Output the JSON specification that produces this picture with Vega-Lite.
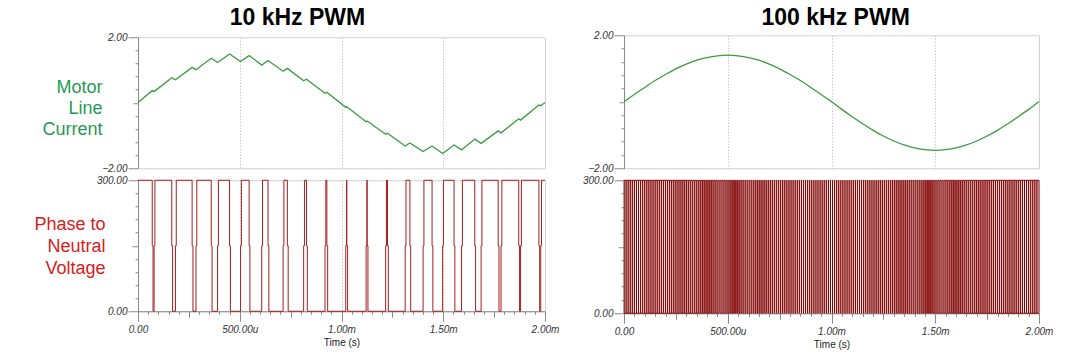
{
"$schema": "https://vega.github.io/schema/vega-lite/v6.json",
"background": "white",
"padding": {"left": 33, "top": 6, "right": 2, "bottom": 2},
"config": {
  "font": "Liberation Sans",
  "view": {"stroke": "#d0d0d0", "strokeWidth": 1},
  "axis": {"labelFont": "Liberation Sans", "labelFontSize": 10, "labelFontStyle": "italic", "labelColor": "#333333", "domainColor": "#8a8a8a", "tickColor": "#8a8a8a", "labelOverlap": false, "labelFlush": false, "labelBound": false, "titleFont": "Liberation Sans", "titleFontWeight": "normal"}
},
"datasets": {
  "i10": [{"t":0,"i":0.01},{"t":70,"i":0.37},{"t":79,"i":0.34},{"t":166,"i":0.76},{"t":184,"i":0.70},{"t":266,"i":1.08},{"t":285,"i":1.01},{"t":360,"i":1.36},{"t":391,"i":1.23},{"t":450,"i":1.49},{"t":504,"i":1.26},{"t":546,"i":1.44},{"t":608,"i":1.15},{"t":639,"i":1.29},{"t":713,"i":0.96},{"t":734,"i":1.05},{"t":814,"i":0.67},{"t":828,"i":0.72},{"t":919,"i":0.29},{"t":928,"i":0.32},{"t":1021,"i":-0.14},{"t":1026,"i":-0.12},{"t":1121,"i":-0.58},{"t":1126,"i":-0.56},{"t":1217,"i":-0.96},{"t":1226,"i":-0.93},{"t":1313,"i":-1.32},{"t":1336,"i":-1.23},{"t":1401,"i":-1.49},{"t":1445,"i":-1.32},{"t":1497,"i":-1.55},{"t":1553,"i":-1.29},{"t":1590,"i":-1.44},{"t":1655,"i":-1.11},{"t":1686,"i":-1.24},{"t":1770,"i":-0.86},{"t":1784,"i":-0.92},{"t":1871,"i":-0.49},{"t":1880,"i":-0.53},{"t":1970,"i":-0.07},{"t":1979,"i":-0.09},{"t":2000,"i":0.01}],
  "v10": [{"t":0,"v":300},
    {"t":70,"v":300},{"t":70,"v":150},{"t":74,"v":150},{"t":74,"v":0},
    {"t":79,"v":0},{"t":79,"v":150},{"t":83,"v":150},{"t":83,"v":300},
    {"t":166,"v":300},{"t":166,"v":150},{"t":170,"v":150},{"t":170,"v":0},
    {"t":184,"v":0},{"t":184,"v":150},{"t":188,"v":150},{"t":188,"v":300},
    {"t":266,"v":300},{"t":266,"v":150},{"t":270,"v":150},{"t":270,"v":0},
    {"t":285,"v":0},{"t":285,"v":150},{"t":289,"v":150},{"t":289,"v":300},
    {"t":360,"v":300},{"t":360,"v":150},{"t":364,"v":150},{"t":364,"v":0},
    {"t":391,"v":0},{"t":391,"v":150},{"t":395,"v":150},{"t":395,"v":300},
    {"t":450,"v":300},{"t":450,"v":150},{"t":454,"v":150},{"t":454,"v":0},
    {"t":504,"v":0},{"t":504,"v":150},{"t":508,"v":150},{"t":508,"v":300},
    {"t":546,"v":300},{"t":546,"v":150},{"t":550,"v":150},{"t":550,"v":0},
    {"t":608,"v":0},{"t":608,"v":150},{"t":612,"v":150},{"t":612,"v":300},
    {"t":639,"v":300},{"t":639,"v":150},{"t":643,"v":150},{"t":643,"v":0},
    {"t":713,"v":0},{"t":713,"v":150},{"t":717,"v":150},{"t":717,"v":300},
    {"t":734,"v":300},{"t":734,"v":150},{"t":738,"v":150},{"t":738,"v":0},
    {"t":814,"v":0},{"t":814,"v":150},{"t":818,"v":150},{"t":818,"v":300},
    {"t":828,"v":300},{"t":828,"v":150},{"t":832,"v":150},{"t":832,"v":0},
    {"t":919,"v":0},{"t":919,"v":150},{"t":923,"v":150},{"t":923,"v":300},
    {"t":928,"v":300},{"t":928,"v":150},{"t":932,"v":150},{"t":932,"v":0},
    {"t":1021,"v":0},{"t":1021,"v":150},{"t":1025,"v":150},{"t":1025,"v":300},
    {"t":1026,"v":300},{"t":1026,"v":150},{"t":1030,"v":150},{"t":1030,"v":0},
    {"t":1121,"v":0},{"t":1121,"v":150},{"t":1125,"v":150},{"t":1125,"v":300},
    {"t":1126,"v":300},{"t":1126,"v":150},{"t":1130,"v":150},{"t":1130,"v":0},
    {"t":1217,"v":0},{"t":1217,"v":150},{"t":1221,"v":150},{"t":1221,"v":300},
    {"t":1226,"v":300},{"t":1226,"v":150},{"t":1230,"v":150},{"t":1230,"v":0},
    {"t":1313,"v":0},{"t":1313,"v":150},{"t":1317,"v":150},{"t":1317,"v":300},
    {"t":1336,"v":300},{"t":1336,"v":150},{"t":1340,"v":150},{"t":1340,"v":0},
    {"t":1401,"v":0},{"t":1401,"v":150},{"t":1405,"v":150},{"t":1405,"v":300},
    {"t":1445,"v":300},{"t":1445,"v":150},{"t":1449,"v":150},{"t":1449,"v":0},
    {"t":1497,"v":0},{"t":1497,"v":150},{"t":1501,"v":150},{"t":1501,"v":300},
    {"t":1553,"v":300},{"t":1553,"v":150},{"t":1557,"v":150},{"t":1557,"v":0},
    {"t":1590,"v":0},{"t":1590,"v":150},{"t":1594,"v":150},{"t":1594,"v":300},
    {"t":1655,"v":300},{"t":1655,"v":150},{"t":1659,"v":150},{"t":1659,"v":0},
    {"t":1686,"v":0},{"t":1686,"v":150},{"t":1690,"v":150},{"t":1690,"v":300},
    {"t":1770,"v":300},{"t":1770,"v":150},{"t":1774,"v":150},{"t":1774,"v":0},
    {"t":1784,"v":0},{"t":1784,"v":150},{"t":1788,"v":150},{"t":1788,"v":300},
    {"t":1871,"v":300},{"t":1871,"v":150},{"t":1875,"v":150},{"t":1875,"v":0},
    {"t":1880,"v":0},{"t":1880,"v":150},{"t":1884,"v":150},{"t":1884,"v":300},
    {"t":1970,"v":300},{"t":1970,"v":150},{"t":1974,"v":150},{"t":1974,"v":0},
    {"t":1979,"v":0},{"t":1979,"v":150},{"t":1983,"v":150},{"t":1983,"v":300},
    {"t":2000,"v":300}],
  "i100": [{"t":0,"i":0},{"t":50,"i":0.22},{"t":100,"i":0.43},{"t":150,"i":0.64},{"t":200,"i":0.82},{"t":250,"i":0.99},{"t":300,"i":1.13},{"t":350,"i":1.25},{"t":400,"i":1.33},{"t":450,"i":1.38},{"t":500,"i":1.40},{"t":550,"i":1.38},{"t":600,"i":1.33},{"t":650,"i":1.25},{"t":700,"i":1.13},{"t":750,"i":0.99},{"t":800,"i":0.82},{"t":850,"i":0.64},{"t":900,"i":0.43},{"t":950,"i":0.22},{"t":1000,"i":0},{"t":1050,"i":-0.23},{"t":1100,"i":-0.45},{"t":1150,"i":-0.66},{"t":1200,"i":-0.86},{"t":1250,"i":-1.03},{"t":1300,"i":-1.18},{"t":1350,"i":-1.30},{"t":1400,"i":-1.39},{"t":1450,"i":-1.44},{"t":1500,"i":-1.46},{"t":1550,"i":-1.44},{"t":1600,"i":-1.39},{"t":1650,"i":-1.30},{"t":1700,"i":-1.18},{"t":1750,"i":-1.03},{"t":1800,"i":-0.86},{"t":1850,"i":-0.66},{"t":1900,"i":-0.45},{"t":1950,"i":-0.23},{"t":2000,"i":0.01}],
  "v100": [{"a":0.25,"b":9.75},{"a":10.25,"b":19.75},{"a":20.26,"b":29.74},{"a":30.26,"b":39.74},{"a":40.27,"b":49.73},{"a":50.28,"b":59.72},{"a":60.3,"b":69.7},{"a":70.31,"b":79.69},{"a":80.33,"b":89.67},{"a":90.35,"b":99.65},
{"a":100.37,"b":109.63},{"a":110.4,"b":119.6},{"a":120.42,"b":129.58},{"a":130.45,"b":139.55},{"a":140.48,"b":149.52},{"a":150.51,"b":159.49},{"a":160.55,"b":169.45},{"a":170.58,"b":179.42},{"a":180.62,"b":189.38},{"a":190.66,"b":199.34},
{"a":200.7,"b":209.3},{"a":210.74,"b":219.26},{"a":220.79,"b":229.21},{"a":230.84,"b":239.16},{"a":240.88,"b":249.12},{"a":250.93,"b":259.07},{"a":260.99,"b":269.01},{"a":271.04,"b":278.96},{"a":281.09,"b":288.91},{"a":291.15,"b":298.85},
{"a":301.21,"b":308.79},{"a":311.27,"b":318.73},{"a":321.32,"b":328.68},{"a":331.39,"b":338.61},{"a":341.45,"b":348.55},{"a":351.51,"b":358.49},{"a":361.57,"b":368.43},{"a":371.64,"b":378.36},{"a":381.71,"b":388.29},{"a":391.77,"b":398.23},
{"a":401.84,"b":408.16},{"a":411.91,"b":418.09},{"a":421.98,"b":428.02},{"a":432.04,"b":437.96},{"a":442.11,"b":447.89},{"a":452.18,"b":457.82},{"a":462.25,"b":467.75},{"a":472.32,"b":477.68},{"a":482.39,"b":487.61},{"a":492.47,"b":497.53},
{"a":502.54,"b":507.46},{"a":512.61,"b":517.39},{"a":522.68,"b":527.32},{"a":532.75,"b":537.25},{"a":542.82,"b":547.18},{"a":552.89,"b":557.11},{"a":562.96,"b":567.04},{"a":573.03,"b":576.97},{"a":583.09,"b":586.91},{"a":593.16,"b":596.84},
{"a":603.23,"b":606.77},{"a":613.3,"b":616.7},{"a":623.36,"b":626.64},{"a":633.43,"b":636.57},{"a":643.49,"b":646.51},{"a":653.55,"b":656.45},{"a":663.62,"b":666.38},{"a":673.68,"b":676.32},{"a":683.74,"b":686.26},{"a":693.79,"b":696.21},
{"a":703.85,"b":706.15},{"a":713.91,"b":716.09},{"a":723.96,"b":726.04},{"a":734.01,"b":735.99},{"a":744.07,"b":745.93},{"a":754.12,"b":755.88},{"a":764.16,"b":765.84},{"a":774.21,"b":775.79},{"a":784.26,"b":785.74},{"a":794.3,"b":795.7},
{"a":804.34,"b":805.66},{"a":814.38,"b":815.62},{"a":824.42,"b":825.58},{"a":834.45,"b":835.55},{"a":844.49,"b":845.51},{"a":854.52,"b":855.48},{"a":864.55,"b":865.45},{"a":874.58,"b":875.42},{"a":884.6,"b":885.4},{"a":894.63,"b":895.37},
{"a":904.65,"b":905.35},{"a":914.67,"b":915.33},{"a":924.69,"b":925.31},{"a":934.7,"b":935.3},{"a":944.72,"b":945.28},{"a":954.73,"b":955.27},{"a":964.74,"b":965.26},{"a":974.74,"b":975.26},{"a":984.75,"b":985.25},{"a":994.75,"b":995.25},
{"a":1004.75,"b":1005.25},{"a":1014.75,"b":1015.25},{"a":1024.74,"b":1025.26},{"a":1034.74,"b":1035.26},{"a":1044.73,"b":1045.27},{"a":1054.72,"b":1055.28},{"a":1064.7,"b":1065.3},{"a":1074.69,"b":1075.31},{"a":1084.67,"b":1085.33},{"a":1094.65,"b":1095.35},
{"a":1104.63,"b":1105.37},{"a":1114.6,"b":1115.4},{"a":1124.58,"b":1125.42},{"a":1134.55,"b":1135.45},{"a":1144.52,"b":1145.48},{"a":1154.49,"b":1155.51},{"a":1164.45,"b":1165.55},{"a":1174.42,"b":1175.58},{"a":1184.38,"b":1185.62},{"a":1194.34,"b":1195.66},
{"a":1204.3,"b":1205.7},{"a":1214.26,"b":1215.74},{"a":1224.21,"b":1225.79},{"a":1234.16,"b":1235.84},{"a":1244.12,"b":1245.88},{"a":1254.07,"b":1255.93},{"a":1264.01,"b":1265.99},{"a":1273.96,"b":1276.04},{"a":1283.91,"b":1286.09},{"a":1293.85,"b":1296.15},
{"a":1303.79,"b":1306.21},{"a":1313.74,"b":1316.26},{"a":1323.68,"b":1326.32},{"a":1333.62,"b":1336.38},{"a":1343.55,"b":1346.45},{"a":1353.49,"b":1356.51},{"a":1363.43,"b":1366.57},{"a":1373.36,"b":1376.64},{"a":1383.3,"b":1386.7},{"a":1393.23,"b":1396.77},
{"a":1403.16,"b":1406.84},{"a":1413.09,"b":1416.91},{"a":1423.03,"b":1426.97},{"a":1432.96,"b":1437.04},{"a":1442.89,"b":1447.11},{"a":1452.82,"b":1457.18},{"a":1462.75,"b":1467.25},{"a":1472.68,"b":1477.32},{"a":1482.61,"b":1487.39},{"a":1492.54,"b":1497.46},
{"a":1502.47,"b":1507.53},{"a":1512.39,"b":1517.61},{"a":1522.32,"b":1527.68},{"a":1532.25,"b":1537.75},{"a":1542.18,"b":1547.82},{"a":1552.11,"b":1557.89},{"a":1562.04,"b":1567.96},{"a":1571.98,"b":1578.02},{"a":1581.91,"b":1588.09},{"a":1591.84,"b":1598.16},
{"a":1601.77,"b":1608.23},{"a":1611.71,"b":1618.29},{"a":1621.64,"b":1628.36},{"a":1631.57,"b":1638.43},{"a":1641.51,"b":1648.49},{"a":1651.45,"b":1658.55},{"a":1661.39,"b":1668.61},{"a":1671.32,"b":1678.68},{"a":1681.27,"b":1688.73},{"a":1691.21,"b":1698.79},
{"a":1701.15,"b":1708.85},{"a":1711.09,"b":1718.91},{"a":1721.04,"b":1728.96},{"a":1730.99,"b":1739.01},{"a":1740.93,"b":1749.07},{"a":1750.88,"b":1759.12},{"a":1760.84,"b":1769.16},{"a":1770.79,"b":1779.21},{"a":1780.74,"b":1789.26},{"a":1790.7,"b":1799.3},
{"a":1800.66,"b":1809.34},{"a":1810.62,"b":1819.38},{"a":1820.58,"b":1829.42},{"a":1830.55,"b":1839.45},{"a":1840.51,"b":1849.49},{"a":1850.48,"b":1859.52},{"a":1860.45,"b":1869.55},{"a":1870.42,"b":1879.58},{"a":1880.4,"b":1889.6},{"a":1890.37,"b":1899.63},
{"a":1900.35,"b":1909.65},{"a":1910.33,"b":1919.67},{"a":1920.31,"b":1929.69},{"a":1930.3,"b":1939.7},{"a":1940.28,"b":1949.72},{"a":1950.27,"b":1959.73},{"a":1960.26,"b":1969.74},{"a":1970.26,"b":1979.74},{"a":1980.25,"b":1989.75},{"a":1990.25,"b":1999.75}]
},
"spacing": 21,
"bounds": "full",
"center": true,
"hconcat": [
  {
    "title": {"text": "10 kHz PWM", "fontSize": 23, "fontWeight": "bold", "color": "#000000", "font": "Liberation Sans", "anchor": "middle", "offset": 2, "dx": 1},
    "bounds": "flush",
    "spacing": 12,
    "vconcat": [
      {
        "width": 407, "height": 131,
        "data": {"name": "i10"},
        "mark": {"type": "line", "color": "#3a9c3e", "strokeWidth": 1.3},
        "encoding": {
          "x": {"field": "t", "type": "quantitative", "scale": {"domain": [0, 2000], "nice": false}, "axis": {"values": [500, 1000, 1500], "grid": true, "gridDash": [1, 2], "gridColor": "#b5b5b5", "ticks": false, "labels": false, "domain": false, "title": null}},
          "y": {"field": "i", "type": "quantitative", "scale": {"domain": [-2, 2], "nice": false}, "axis": {
            "values": [-2, -1.6, -1.2, -0.8, -0.4, 0, 0.4, 0.8, 1.2, 1.6, 2],
            "tickSize": {"condition": [{"test": "abs(datum.value) > 1.99", "value": 10}, {"test": "datum.value == 0", "value": 5}], "value": 3},
            "labelExpr": "abs(datum.value) > 1.99 ? format(datum.value, '.2f') : ''",
            "labelPadding": 1, "grid": false,
            "title": ["Motor", "Line", "Current"], "titleColor": "#1f9a55", "titleFontSize": 18, "titleAngle": 0, "titleAlign": "right", "titleBaseline": "middle", "titleX": -36, "titleY": 50, "titleLineHeight": 21
          }}
        }
      },
      {
        "width": 407, "height": 131,
        "data": {"name": "v10"},
        "mark": {"type": "line", "color": "#a31f1f", "strokeWidth": 1},
        "encoding": {
          "x": {"field": "t", "type": "quantitative", "scale": {"domain": [0, 2000], "nice": false}, "axis": {
            "values": [0,50,100,150,200,250,300,350,400,450,500,550,600,650,700,750,800,850,900,950,1000,1050,1100,1150,1200,1250,1300,1350,1400,1450,1500,1550,1600,1650,1700,1750,1800,1850,1900,1950,2000],
            "tickSize": {"condition": [{"test": "datum.value % 500 == 0", "value": 10}, {"test": "datum.value % 250 == 0", "value": 6}], "value": 3},
            "labelExpr": "datum.value == 0 ? '0.00' : datum.value == 500 ? '500.00u' : datum.value % 500 == 0 ? format(datum.value / 1000, '.2f') + 'm' : ''",
            "labelPadding": 3, "grid": true, "gridDash": [1, 2], "gridColor": "#b5b5b5",
            "gridOpacity": {"condition": {"test": "datum.value % 500 == 0 && datum.value > 0 && datum.value < 2000", "value": 1}, "value": 0},
            "title": "Time (s)", "titleFontSize": 10, "titleColor": "#222222", "titlePadding": 3
          }},
          "y": {"field": "v", "type": "quantitative", "scale": {"domain": [0, 300], "nice": false}, "axis": {
            "values": [0, 30, 60, 90, 120, 150, 180, 210, 240, 270, 300],
            "tickSize": {"condition": [{"test": "datum.value == 0 || datum.value == 300", "value": 10}, {"test": "datum.value == 150", "value": 6}], "value": 3},
            "labelExpr": "datum.value == 0 || datum.value == 300 ? format(datum.value, '.2f') : ''",
            "labelPadding": 1, "grid": false,
            "title": ["Phase to", "Neutral", "Voltage"], "titleColor": "#d42020", "titleFontSize": 18, "titleAngle": 0, "titleAlign": "right", "titleBaseline": "middle", "titleX": -33, "titleY": 44, "titleLineHeight": 22
          }}
        }
      }
    ]
  },
  {
    "title": {"text": "100 kHz PWM", "fontSize": 23, "fontWeight": "bold", "color": "#000000", "font": "Liberation Sans", "anchor": "middle", "offset": 0, "dx": 18},
    "bounds": "flush",
    "spacing": 12,
    "vconcat": [
      {
        "width": 415, "height": 133,
        "data": {"name": "i100"},
        "mark": {"type": "line", "color": "#3a9c3e", "strokeWidth": 1.3, "interpolate": "monotone"},
        "encoding": {
          "x": {"field": "t", "type": "quantitative", "scale": {"domain": [0, 2000], "nice": false}, "axis": {"values": [500, 1000, 1500], "grid": true, "gridDash": [1, 2], "gridColor": "#b5b5b5", "ticks": false, "labels": false, "domain": false, "title": null}},
          "y": {"field": "i", "type": "quantitative", "scale": {"domain": [-2, 2], "nice": false}, "axis": {
            "values": [-2, -1.6, -1.2, -0.8, -0.4, 0, 0.4, 0.8, 1.2, 1.6, 2],
            "tickSize": {"condition": [{"test": "abs(datum.value) > 1.99", "value": 10}, {"test": "datum.value == 0", "value": 5}], "value": 3},
            "labelExpr": "abs(datum.value) > 1.99 ? format(datum.value, '.2f') : ''",
            "labelPadding": 1, "grid": false, "title": null
          }}
        }
      },
      {
        "width": 415, "height": 133,
        "data": {"name": "v100"},
        "mark": {"type": "rect", "filled": false, "color": "#800000", "strokeWidth": 0.9},
        "encoding": {
          "x": {"field": "a", "type": "quantitative", "scale": {"domain": [0, 2000], "nice": false}, "axis": {
            "values": [0,50,100,150,200,250,300,350,400,450,500,550,600,650,700,750,800,850,900,950,1000,1050,1100,1150,1200,1250,1300,1350,1400,1450,1500,1550,1600,1650,1700,1750,1800,1850,1900,1950,2000],
            "tickSize": {"condition": [{"test": "datum.value % 500 == 0", "value": 10}, {"test": "datum.value % 250 == 0", "value": 6}], "value": 3},
            "labelExpr": "datum.value == 0 ? '0.00' : datum.value == 500 ? '500.00u' : datum.value % 500 == 0 ? format(datum.value / 1000, '.2f') + 'm' : ''",
            "labelPadding": 3, "grid": false,
            "title": "Time (s)", "titleFontSize": 10, "titleColor": "#222222", "titlePadding": 3
          }},
          "x2": {"field": "b"},
          "y": {"datum": 0, "type": "quantitative", "scale": {"domain": [0, 300], "nice": false}, "axis": {
            "values": [0, 30, 60, 90, 120, 150, 180, 210, 240, 270, 300],
            "tickSize": {"condition": [{"test": "datum.value == 0 || datum.value == 300", "value": 10}, {"test": "datum.value == 150", "value": 6}], "value": 3},
            "labelExpr": "datum.value == 0 || datum.value == 300 ? format(datum.value, '.2f') : ''",
            "labelPadding": 1, "grid": false, "title": null
          }},
          "y2": {"datum": 300}
        }
      }
    ]
  }
]
}
